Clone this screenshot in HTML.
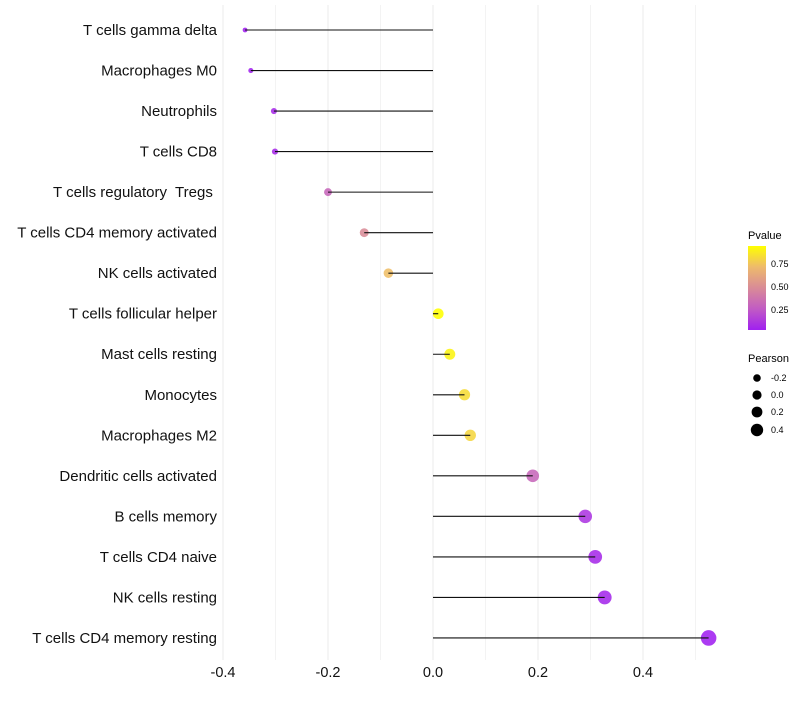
<!DOCTYPE html>
<html><head><meta charset="utf-8"><style>
body{margin:0;background:#fff;font-family:"Liberation Sans",sans-serif}
text{white-space:pre}
</style></head><body>
<svg id="chart" width="800" height="700" xmlns="http://www.w3.org/2000/svg">
<defs><linearGradient id="pg" x1="0" y1="1" x2="0" y2="0">
<stop offset="0" stop-color="#a020f0"/><stop offset="0.25" stop-color="#c15bc4"/><stop offset="0.5" stop-color="#d98b97"/><stop offset="0.75" stop-color="#eeba6c"/><stop offset="1" stop-color="#ffff00"/></linearGradient></defs>
<g id="grid"></g><g id="dots"></g><g id="marks"></g><g id="labels"></g>
<g font-size="10">
<text x="748" y="239" font-size="11">Pvalue</text>
<rect x="748" y="246" width="18" height="84" fill="url(#pg)"/>
<text x="771" y="267" font-size="9">0.75</text>
<text x="771" y="290" font-size="9">0.50</text>
<text x="771" y="313" font-size="9">0.25</text>
<text x="748" y="362" font-size="11">Pearson</text>
<circle cx="757" cy="378" r="3.8"/><text x="771" y="381" font-size="9">-0.2</text>
<circle cx="757" cy="395" r="4.6"/><text x="771" y="398" font-size="9">0.0</text>
<circle cx="757" cy="412" r="5.4"/><text x="771" y="415" font-size="9">0.2</text>
<circle cx="757" cy="430" r="6.2"/><text x="771" y="433" font-size="9">0.4</text>
</g>
</svg>
<script>
const cells=["T cells gamma delta","Macrophages M0","Neutrophils","T cells CD8","T cells regulatory  Tregs ","T cells CD4 memory activated","NK cells activated","T cells follicular helper","Mast cells resting","Monocytes","Macrophages M2","Dendritic cells activated","B cells memory","T cells CD4 naive","NK cells resting","T cells CD4 memory resting"];
const pearson=[-0.358,-0.347,-0.303,-0.301,-0.2,-0.131,-0.085,0.01,0.032,0.06,0.071,0.19,0.29,0.309,0.327,0.525];
const pvalue=[0.02,0.03,0.06,0.06,0.3,0.48,0.72,0.97,0.9,0.82,0.8,0.3,0.1,0.06,0.05,0.01];
const ticks=[-0.4,-0.2,0,0.2,0.4];
const NS="http://www.w3.org/2000/svg";
const x=v=>433+v*525;
const y=i=>30+i*40.53;
const rad=p=>Math.sqrt(Math.max(3,28+62*p));
const stops=[[0,[160,32,240]],[0.25,[193,91,196]],[0.5,[217,139,151]],[0.75,[238,186,108]],[1,[255,255,0]]];
function col(p){p=Math.max(0.02,Math.min(0.935,p));p=(p-0.02)/(0.935-0.02);
for(let k=1;k<stops.length;k++){if(p<=stops[k][0]){const a=stops[k-1],b=stops[k],t=(p-a[0])/(b[0]-a[0]);
return "rgb("+a[1].map((c,j)=>Math.round(c+(b[1][j]-c)*t)).join(",")+")";}}return "rgb(255,255,0)";}
function mk(t,a,par){const e=document.createElementNS(NS,t);for(const k in a)e.setAttribute(k,a[k]);document.getElementById(par).appendChild(e);return e;}
for(let v=-0.4;v<=0.51;v+=0.1){const g=mk("line",{x1:x(v),x2:x(v),y1:5,y2:660,stroke:"#ebebeb","stroke-width":Math.abs(Math.round(v*10))%2===0?1:0.6},"grid");

}
ticks.forEach(t=>{const e=mk("text",{x:x(t),y:677,"text-anchor":"middle","font-size":"14.5",fill:"#111"},"labels");e.textContent=t===0?"0.0":t.toFixed(1);

});
cells.forEach((c,i)=>{
const d=mk("circle",{cx:x(pearson[i]),cy:y(i),r:rad(pearson[i]),fill:col(pvalue[i]),"fill-opacity":0.88},"dots");


const l=mk("line",{x1:x(0),x2:x(pearson[i]),y1:y(i),y2:y(i),stroke:"#111","stroke-width":1.1},"marks");


const t=mk("text",{x:217,y:y(i)+5,"text-anchor":"end","font-size":"15",fill:"#111"},"labels");t.textContent=c;


});
</script>
</body></html>
